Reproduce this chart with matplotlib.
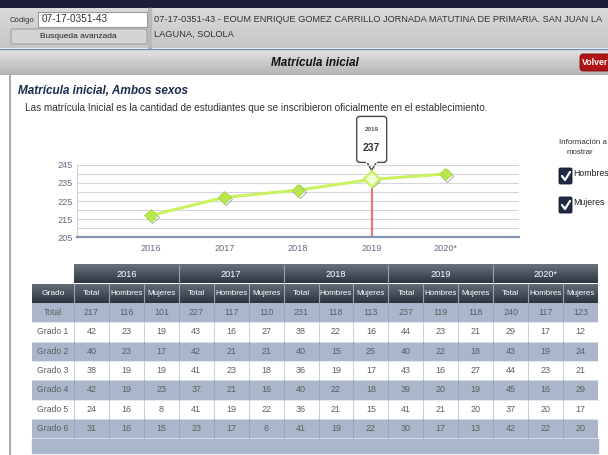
import numpy as np
import matplotlib
matplotlib.use("Agg")
import matplotlib.pyplot as plt
import matplotlib.patheffects as pe
from matplotlib.patches import Rectangle, FancyBboxPatch, Polygon
from matplotlib.colors import LinearSegmentedColormap

plt.rcParams['font.family'] = ['Liberation Sans', 'DejaVu Sans']

# --- data ---
years = ["2016", "2017", "2018", "2019", "2020*"]
grados = ["Total", "Grado 1", "Grado 2", "Grado 3", "Grado 4", "Grado 5", "Grado 6"]
subcols = ["Total", "Hombres", "Mujeres"]
# one list per year, values per grado (Total, Grado 1..6)
totales = [[217, 42, 40, 38, 42, 24, 31],
           [227, 43, 42, 41, 37, 41, 23],
           [231, 38, 40, 36, 40, 36, 41],
           [237, 44, 40, 43, 39, 41, 30],
           [240, 29, 43, 44, 45, 37, 42]]
hombres = [[116, 23, 23, 19, 19, 16, 16],
           [117, 16, 21, 23, 21, 19, 17],
           [118, 22, 15, 19, 22, 21, 19],
           [119, 23, 22, 16, 20, 21, 17],
           [117, 17, 19, 23, 16, 20, 22]]
mujeres = [[101, 19, 17, 19, 23, 8, 15],
           [110, 27, 21, 18, 16, 22, 6],
           [113, 16, 25, 17, 18, 15, 22],
           [118, 21, 18, 27, 19, 20, 13],
           [123, 12, 24, 21, 29, 17, 20]]
highlight_year = "2019"

W, H = 608, 455
fig = plt.figure(figsize=(W / 100, H / 100), dpi=100)
bg = fig.add_axes([0, 0, 1, 1])
bg.set_xlim(0, W)
bg.set_ylim(H, 0)
bg.axis("off")


def grad(x0, y0, x1, y1, c_top, c_bot, z=1):
    cm = LinearSegmentedColormap.from_list("g", [c_top, c_bot])
    bg.imshow(np.linspace(0, 1, 64).reshape(-1, 1), cmap=cm, extent=(x0, x1, y1, y0),
              aspect="auto", zorder=z, interpolation="bilinear")


# --- page header ---
bg.add_patch(Rectangle((0, 0), W, 8, color="#1d1d3b", zorder=1))
grad(0, 8, W, 48, "#dadada", "#c6c6c6")
bg.add_patch(Rectangle((148, 8), 3, 40, color="#b8b8b8", zorder=2))
bg.text(10, 20, "Código", fontsize=5.6, color="#333333", va="center", zorder=3)
bg.add_patch(Rectangle((38, 12), 109, 15, fc="white", ec="#9a9a9a", lw=0.8, zorder=3))
bg.text(42, 19.5, "07-17-0351-43", fontsize=7.2, color="#333333", va="center", zorder=4)
bg.add_patch(FancyBboxPatch((11, 29), 136, 15, boxstyle="round,pad=0,rounding_size=2",
                            fc="#d4d4d4", ec="#a0a0a0", lw=0.8, zorder=3))
bg.text(78, 37, "Busqueda avanzada", fontsize=6, color="#222222", ha="center", va="center", zorder=4)
bg.text(154, 19, "07-17-0351-43 - EOUM ENRIQUE GOMEZ CARRILLO JORNADA MATUTINA DE PRIMARIA. SAN JUAN LA",
        fontsize=6.7, color="#333333", va="center", zorder=4)
bg.text(154, 34, "LAGUNA, SOLOLA", fontsize=6.7, color="#333333", va="center", zorder=4)
bg.plot([0, W], [48.5, 48.5], color="#6f8fb8", lw=1, zorder=4)

grad(0, 50, W, 75, "#e2e2e2", "#b4b4b4")
bg.text(315, 63, "Matrícula inicial", fontsize=8.5, fontweight="bold", fontstyle="italic",
        color="#111111", ha="center", va="center", zorder=4)
bg.add_patch(FancyBboxPatch((580, 54), 40, 17, boxstyle="round,pad=0,rounding_size=3",
                            fc="#b01414", ec="#7a0a0a", lw=0.6, zorder=3))
bg.text(582, 62.5, "Volver", fontsize=6.3, fontweight="bold", color="white", va="center", zorder=4)

bg.plot([9.5, 9.5], [75, H], color="#9a9a9a", lw=1.2, zorder=4)

bg.text(18, 91, "Matrícula inicial, Ambos sexos", fontsize=8.5, fontweight="bold", fontstyle="italic",
        color="#1b2c4e", va="center", zorder=4)
bg.text(25, 108, "Las matrícula Inicial es la cantidad de estudiantes que se inscribieron oficialmente en el establecimiento.",
        fontsize=7.2, color="#333333", va="center", zorder=4)

# --- chart ---
ax = fig.add_axes([77 / W, 1 - 237 / H, (519 - 77) / W, (237 - 165) / H])
ax.set_facecolor("none")
xs = np.arange(len(years))
vals = [t[0] for t in totales]
ax.set_xlim(-1, len(years))
ax.set_ylim(205, 245)
ax.set_yticks([205, 215, 225, 235, 245])
ax.set_yticks([210, 220, 230, 240], minor=True)
ax.set_xticks(xs)
ax.set_xticklabels(years)
ax.grid(True, axis="y", which="both", color="#d6d6da", lw=0.8)
ax.tick_params(length=0, labelsize=6.6, labelcolor="#646c82", which="both")
ax.tick_params(axis="x", pad=5)
ax.tick_params(axis="y", pad=3)
for s in ["top", "right"]:
    ax.spines[s].set_visible(False)
ax.spines["left"].set_color("#d0d4dc")
ax.spines["bottom"].set_color("#8494b4")
ax.spines["bottom"].set_linewidth(1.6)

hi = years.index(highlight_year)
ax.vlines(xs[hi], 205, vals[hi], color="#ea7676", lw=1.6, zorder=2)
ax.plot(xs, vals, color="#c8f262", lw=2.2, zorder=3, solid_capstyle="round")
ax.plot(xs, vals, "D", ms=6.5, mfc="#b9e84e", mec="#a9d842", mew=0.6, zorder=4,
        path_effects=[pe.SimpleLineShadow(offset=(1.2, -1.2), shadow_color="#555555", alpha=0.55), pe.Normal()])
ax.plot(xs[hi], vals[hi], "D", ms=8.5, mfc="#f2ffd6", mec="#c8f262", mew=1.6, zorder=5)

# tooltip above highlighted point
px, py = ax.transData.transform((xs[hi], vals[hi]))
py = H - py
bg.add_patch(FancyBboxPatch((px - 15, py - 63), 30, 46, boxstyle="round,pad=0,rounding_size=3",
                            fc="white", ec="#4a4a4a", lw=1, zorder=6))
bg.add_patch(Polygon([[px - 5, py - 17.6], [px + 5, py - 17.6], [px, py - 9]], closed=True,
                     fc="white", ec="#4a4a4a", lw=1, zorder=6))
bg.plot([px - 4.2, px + 4.2], [py - 17.6, py - 17.6], color="white", lw=1.4, zorder=7)
bg.text(px, py - 50, highlight_year, fontsize=4.5, fontweight="bold", color="#555555",
        ha="center", va="center", zorder=8)
bg.text(px, py - 31, str(vals[hi]), fontsize=7.5, fontweight="bold", color="#333333",
        ha="center", va="center", zorder=8)

# legend / options
bg.text(559, 143, "Información a", fontsize=5.7, color="#333333", va="center", zorder=4)
bg.text(580, 153, "mostrar", fontsize=5.7, color="#333333", ha="center", va="center", zorder=4)
for yb, lab in [(168, "Hombres"), (197, "Mujeres")]:
    bg.add_patch(FancyBboxPatch((559, yb), 13, 16, boxstyle="round,pad=0,rounding_size=1.5",
                                fc="#1f2b44", ec="#101828", lw=0.6, zorder=4))
    bg.plot([562, 565, 570], [yb + 8, yb + 12, yb + 4], color="white", lw=1.6, zorder=5,
            solid_capstyle="round", solid_joinstyle="round")
    bg.text(573.5, yb + 5.5, lab, fontsize=6.3, color="#222222", va="center", zorder=4)

# --- table ---
tx0, tx1 = 74, 598
gx0 = 32
gw = (tx1 - tx0) / len(years)
cw = gw / 3
h1_top, h1_bot = 265, 283.5
h2_top, h2_bot = 284, 303
rh = 19.3
n_rows = len(grados)
body_bot = h2_bot + n_rows * rh

grad(tx0, h1_top, tx1, h1_bot, "#6a727e", "#2e3542", z=3)
grad(gx0, h2_top, tx1, h2_bot, "#646c78", "#2c3340", z=3)
for i, yr in enumerate(years):
    bx = tx0 + i * gw
    bg.text(bx + gw / 2, (h1_top + h1_bot) / 2, yr, fontsize=6.6, color="white",
            ha="center", va="center", zorder=5)
    if i > 0:
        bg.plot([bx, bx], [h1_top, h1_bot], color="#9aa2b0", lw=0.8, zorder=4)
bg.text((gx0 + tx0) / 2, (h2_top + h2_bot) / 2, "Grado", fontsize=6, color="white",
        ha="center", va="center", zorder=5)
for i in range(len(years)):
    for j, sc in enumerate(subcols):
        cx = tx0 + i * gw + j * cw
        bg.plot([cx, cx], [h2_top, h2_bot], color="#9aa2b0", lw=0.8, zorder=4)
        bg.text(cx + cw / 2, (h2_top + h2_bot) / 2, sc, fontsize=5.8, color="white",
                ha="center", va="center", zorder=5)

# body rows
bg.add_patch(Rectangle((gx0, body_bot), tx1 - gx0, 453 - body_bot, color="#aab7cb", zorder=2))
for r, g in enumerate(grados):
    y0 = h2_bot + r * rh
    fc = "#aab7cb" if r % 2 == 0 else "white"
    sep = "#98a8c0" if r % 2 == 0 else "#c6d2e4"
    bg.add_patch(Rectangle((gx0, y0), tx1 - gx0, rh, fc=fc, ec="none", zorder=2))
    bg.plot([gx0, tx1], [y0 + rh, y0 + rh], color="#dfe5ee", lw=0.6, zorder=3)
    yc = y0 + rh / 2
    bg.text((gx0 + tx0) / 2, yc, g, fontsize=6.2, color="#5e5e5e", ha="center", va="center", zorder=5)
    for i in range(len(years)):
        cells = [totales[i][r], hombres[i][r], mujeres[i][r]]
        for j, v in enumerate(cells):
            cx = tx0 + i * gw + j * cw
            bg.plot([cx, cx], [y0, y0 + rh], color=sep, lw=0.8, zorder=3)
            bg.text(cx + cw / 2, yc, str(v), fontsize=6.5, color="#5e5e5e",
                    ha="center", va="center", zorder=5)

bg.set_xlim(0, W)
bg.set_ylim(H, 0)
fig.savefig("out.png", dpi=100)
